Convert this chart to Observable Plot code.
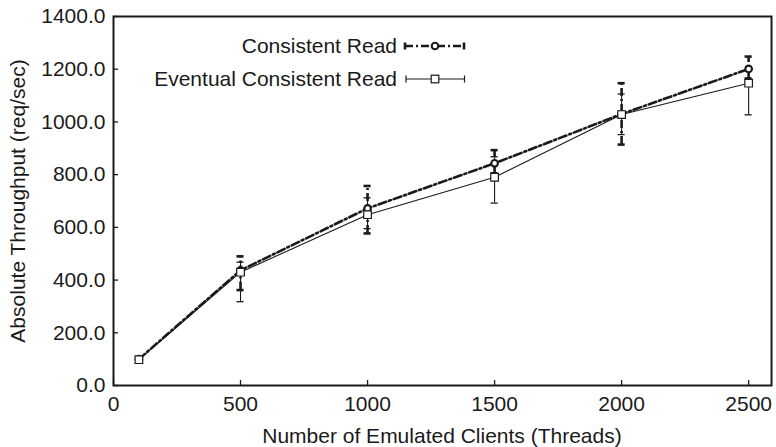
<!DOCTYPE html>
<html><head><meta charset="utf-8">
<script src="https://cdn.jsdelivr.net/npm/d3@7"></script>
<script src="https://cdn.jsdelivr.net/npm/@observablehq/plot@0.6"></script>
<style>
body{margin:0;background:#fff}
#chart{width:776px;height:447px}
</style>
</head><body><div id="chart"></div>
<script>
// ---- data ----
const clients = [100, 500, 1000, 1500, 2000, 2500];
const seriesNames = ["Consistent Read", "Eventual Consistent Read"];
const consistentMean = [100, 437, 672, 843, 1030, 1201];
const consistentLow  = [100, 362, 577, 805, 914, 1165];
const consistentHigh = [100, 490, 757, 893, 1147, 1248];
const eventualMean = [98, 430, 648, 790, 1028, 1147];
const eventualLow  = [98, 318, 595, 692, 952, 1027];
const eventualHigh = [98, 468, 712, 868, 1106, 1195];
const xTicks = [0, 500, 1000, 1500, 2000, 2500];
const yTicks = [0, 200, 400, 600, 800, 1000, 1200, 1400];
const xLabel = "Number of Emulated Clients (Threads)";
const yLabel = "Absolute Throughput (req/sec)";

const rows = clients.map((c, i) => ({
  x: c,
  c: consistentMean[i], cLo: consistentLow[i], cHi: consistentHigh[i],
  e: eventualMean[i], eLo: eventualLow[i], eHi: eventualHigh[i]
}));
const cErr = rows.filter(d => d.cHi > d.cLo);
const eErr = rows.filter(d => d.eHi > d.eLo);
const cCaps = cErr.flatMap(d => [{x: d.x, v: d.cLo}, {x: d.x, v: d.cHi}]);
const eCaps = eErr.flatMap(d => [{x: d.x, v: d.eLo}, {x: d.x, v: d.eHi}]);
const capHalf = 14;
const dash = "8,3,2,3";
const ink = "#1a1a1a";
const fs = "21px";
const fontFamily = '"Liberation Sans", Arial, Helvetica, sans-serif';

const plot = Plot.plot({
  width: 776, height: 447,
  marginLeft: 113, marginRight: 5, marginTop: 16, marginBottom: 62,
  style: {fontFamily, fontSize: fs, color: ink, background: "#fff"},
  x: {domain: [0, 2590]},
  y: {domain: [0, 1400]},
  marks: [
    Plot.axisX(xTicks, {tickSize: -5, tickPadding: 16, label: null, stroke: ink, strokeWidth: 1.3, tickFormat: d => String(d)}),
    Plot.axisY(yTicks, {tickSize: -5, tickPadding: 13, label: null, stroke: ink, strokeWidth: 1.3, tickFormat: d => d.toFixed(1)}),
    // eventual series
    Plot.line(rows, {x: "x", y: "e", stroke: ink, strokeWidth: 1.1}),
    Plot.ruleX(eErr, {x: "x", y1: "eLo", y2: "eHi", stroke: ink, strokeWidth: 1.1}),
    Plot.ruleY(eCaps, {y: "v", x1: d => d.x - capHalf, x2: d => d.x + capHalf, stroke: ink, strokeWidth: 1.3}),
    // consistent series
    Plot.line(rows, {x: "x", y: "c", stroke: ink, strokeWidth: 2.6, strokeDasharray: dash}),
    Plot.ruleX(cErr, {x: "x", y1: "cLo", y2: "cHi", stroke: ink, strokeWidth: 2.6, strokeDasharray: dash}),
    Plot.ruleY(cCaps, {y: "v", x1: d => d.x - capHalf, x2: d => d.x + capHalf, stroke: ink, strokeWidth: 2.6}),
    Plot.dot(rows, {x: "x", y: "c", r: 3.3, fill: "#fff", stroke: ink, strokeWidth: 2.1}),
    Plot.dot(rows, {x: "x", y: "e", symbol: "square", r: 4.3, fill: "#fff", stroke: ink, strokeWidth: 1.2}),
    Plot.frame({stroke: ink, strokeWidth: 2})
  ]
});

const svg = d3.select(plot);

// axis titles
svg.append("text").attr("x", 442).attr("y", 443).attr("text-anchor", "middle")
  .attr("fill", ink).style("font-size", fs).text(xLabel);
svg.append("text").attr("transform", "translate(25,201) rotate(-90)").attr("text-anchor", "middle")
  .attr("fill", ink).style("font-size", fs).text(yLabel);

// legend
const lg = svg.append("g").attr("fill", "none").attr("stroke", ink);
const legY = [46, 79];
seriesNames.forEach((name, i) => {
  svg.append("text").attr("x", 397).attr("y", legY[i]).attr("dy", "0.35em")
    .attr("text-anchor", "end").attr("fill", ink).style("font-size", fs).text(name);
});
// consistent legend sample
lg.append("line").attr("x1", 405).attr("x2", 465).attr("y1", legY[0]).attr("y2", legY[0])
  .attr("stroke-width", 2.6).attr("stroke-dasharray", dash);
lg.append("line").attr("x1", 405).attr("x2", 405).attr("y1", legY[0] - 3.5).attr("y2", legY[0] + 3.5).attr("stroke-width", 2.6);
lg.append("line").attr("x1", 464).attr("x2", 464).attr("y1", legY[0] - 3.5).attr("y2", legY[0] + 3.5).attr("stroke-width", 2.6);
lg.append("circle").attr("cx", 435).attr("cy", legY[0]).attr("r", 3.3).attr("fill", "#fff").attr("stroke-width", 2.1);
// eventual legend sample
lg.append("line").attr("x1", 406).attr("x2", 465).attr("y1", legY[1]).attr("y2", legY[1]).attr("stroke-width", 1.1);
lg.append("line").attr("x1", 406).attr("x2", 406).attr("y1", legY[1] - 3.5).attr("y2", legY[1] + 3.5).attr("stroke-width", 1.2);
lg.append("line").attr("x1", 464.5).attr("x2", 464.5).attr("y1", legY[1] - 3.5).attr("y2", legY[1] + 3.5).attr("stroke-width", 1.2);
lg.append("rect").attr("x", 431.2).attr("y", legY[1] - 3.8).attr("width", 7.6).attr("height", 7.6).attr("fill", "#fff").attr("stroke-width", 1.2);

document.getElementById("chart").appendChild(plot);
</script>
</body></html>
